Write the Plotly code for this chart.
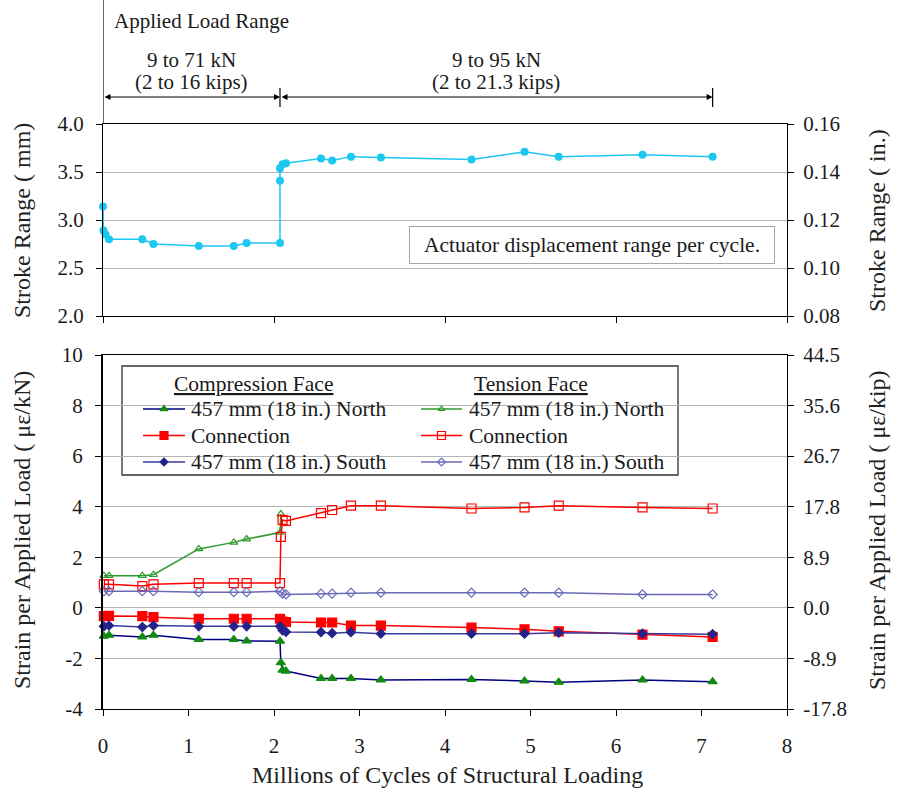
import plotly.graph_objects as go

# ---- data -------------------------------------------------------------
# Millions of cycles at which stroke range was recorded
stroke_cycles = [0.0, 0.005, 0.03, 0.07, 0.46, 0.59, 1.12, 1.53, 1.68, 2.07, 2.07, 2.07,
                 2.10, 2.14, 2.55, 2.68, 2.90, 3.25, 4.31, 4.93, 5.33, 6.31, 7.13]
stroke_mm = [3.14, 2.89, 2.85, 2.80, 2.80, 2.75, 2.73, 2.73, 2.76, 2.76, 3.41, 3.54,
             3.58, 3.59, 3.64, 3.62, 3.66, 3.65, 3.63, 3.71, 3.66, 3.68, 3.66]

# Millions of cycles at which strain readings were taken
strain_cycles = [0.01, 0.07, 0.46, 0.59, 1.12, 1.53, 1.68, 2.07, 2.08, 2.10,
                 2.14, 2.55, 2.68, 2.90, 3.25, 4.31, 4.93, 5.33, 6.31, 7.13]

# Strain per applied load (microstrain / kN)
comp_north = [-1.12, -1.08, -1.15, -1.08, -1.25, -1.25, -1.31, -1.32, -2.17, -2.46,
              -2.50, -2.79, -2.79, -2.79, -2.85, -2.83, -2.89, -2.94, -2.85, -2.92]
comp_conn = [-0.33, -0.32, -0.33, -0.37, -0.43, -0.43, -0.43, -0.43, None, -0.54,
             -0.56, -0.58, -0.58, -0.70, -0.70, -0.78, -0.85, -0.93, -1.06, -1.15]
comp_south = [-0.73, -0.70, -0.76, -0.70, -0.73, -0.73, -0.73, -0.73, None, -0.89,
              -0.95, -0.96, -1.00, -0.96, -1.02, -1.02, -1.02, -0.98, -1.02, -1.04]
tens_north = [1.27, 1.27, 1.27, 1.31, 2.33, 2.59, 2.72, 2.98, 3.71, None,
              None, None, None, None, None, None, None, None, None, None]
tens_conn = [0.93, 0.93, 0.86, 0.93, 0.98, 0.98, 0.98, 0.98, 2.81, 3.48,
             3.44, 3.75, 3.87, 4.04, 4.04, 3.93, 3.97, 4.04, 3.97, 3.93]
tens_south = [0.66, 0.66, 0.66, 0.66, 0.62, 0.62, 0.62, 0.66, None, 0.56,
              0.53, 0.56, 0.56, 0.60, 0.60, 0.60, 0.60, 0.60, 0.53, 0.53]

# Load stages
load_change = 2.07   # million cycles where the load range was raised
test_end = 7.13
stage_kn = ["9 to 71 kN", "9 to 95 kN"]
stage_kips = ["(2 to 16 kips)", "(2 to 21.3 kips)"]

KIP_PER_KN = 4.448  # conversion for the right-hand strain axis
strain_ticks = list(range(-4, 11, 2))

FONT = "Liberation Serif"
GRID = "#b4b4b4"
INK = "#1a1a1a"

# plot-area box in page pixels, used to place the page furniture
W, H = 898, 794
L, R, T, B = 103, 787, 124, 709


def px(x):
    return (x - L) / (R - L)


def py(y):
    return (B - y) / (B - T)


fig = go.Figure()

# ---- stroke range (top panel) ----------------------------------------
fig.add_trace(go.Scatter(
    x=stroke_cycles, y=stroke_mm, mode="lines+markers", cliponaxis=False,
    line=dict(color="#1cc8f2", width=1.5),
    marker=dict(color="#1cc8f2", size=8, symbol="circle"),
    xaxis="x", yaxis="y", showlegend=False))

# ---- strain per applied load (bottom panel) ---------------------------
series = [
    # name, values, line colour, marker colour, symbol, size, legend column
    ("457 mm (18 in.) North", comp_north, "#000080", "#118a11", "triangle-up", 8, 0),
    ("Connection", comp_conn, "#ff0000", "#ff0000", "square", 9, 0),
    ("457 mm (18 in.) South", comp_south, "#3a3a9c", "#23238c", "diamond", 7, 0),
    ("457 mm (18 in.) North", tens_north, "#2e9a2e", "#2e9a2e", "triangle-up-open", 7, 1),
    ("Connection", tens_conn, "#ff0000", "#ff0000", "square-open", 9, 1),
    ("457 mm (18 in.) South", tens_south, "#6a6ab8", "#6a6ab8", "diamond-open", 7, 1),
]
for name, vals, lcol, mcol, sym, size, col in series:
    fig.add_trace(go.Scatter(
        x=strain_cycles, y=vals, mode="lines+markers", name=name, connectgaps=True,
        cliponaxis=False,
        line=dict(color=lcol, width=1.5),
        marker=dict(color=mcol, size=size, symbol=sym, line=dict(color=mcol, width=1.2)),
        xaxis="x2", yaxis="y2", showlegend=False))

# ---- axes ----------------------------------------------------------------
tickfont = dict(family=FONT, size=21, color=INK)
common_axis = dict(showline=True, linecolor="black", linewidth=1.2, ticks="outside",
                   tickcolor="black", ticklen=6, zeroline=False, tickfont=tickfont)

fig.update_layout(
    xaxis=dict(domain=[0, 1], anchor="y", range=[0, 8], dtick=2, showticklabels=False,
               showgrid=False, mirror=True, **common_axis),
    yaxis=dict(domain=[py(316), 1], anchor="x", range=[2, 4], dtick=0.5, tickformat=".1f",
               showgrid=True, gridcolor=GRID, ticklabelstandoff=8, **common_axis),
    yaxis3=dict(overlaying="y", side="right", anchor="x", range=[0.08, 0.16], dtick=0.02,
                tickformat=".2f", showgrid=False, ticklabelstandoff=5, **common_axis),
    xaxis2=dict(domain=[0, 1], anchor="y2", range=[0, 8], dtick=1, showgrid=False,
                mirror=True, ticklabelstandoff=12, **common_axis),
    yaxis2=dict(domain=[0, py(355)], anchor="x2", range=[-4, 10], tickvals=strain_ticks,
                ticktext=[str(v) for v in strain_ticks],
                showgrid=True, gridcolor=GRID, ticklabelstandoff=8,
                **{**common_axis, "linewidth": 2.2}),
    yaxis4=dict(overlaying="y2", side="right", anchor="x2",
                range=[-4 * KIP_PER_KN, 10 * KIP_PER_KN],
                tickvals=[v * KIP_PER_KN for v in strain_ticks],
                ticktext=["%.1f" % (v * KIP_PER_KN) for v in strain_ticks],
                showgrid=False, ticklabelstandoff=5, **common_axis),
    # helper axes in page pixels for the legend glyphs
    xaxis3=dict(domain=[0, 1], anchor="y5", range=[L, R], visible=False, fixedrange=True),
    yaxis5=dict(domain=[0, 1], anchor="x3", range=[B, T], visible=False, fixedrange=True),
)

# dummy traces so the right-hand axes are drawn
fig.add_trace(go.Scatter(x=[None], y=[None], xaxis="x", yaxis="y3", showlegend=False))
fig.add_trace(go.Scatter(x=[None], y=[None], xaxis="x2", yaxis="y4", showlegend=False))

# ---- legend (two columns with underlined headers) -----------------------
legfont = dict(family=FONT, size=21.5, color=INK)
col_sample = [(143, 185), (421, 462)]
col_text = [189, 467]
rows = [409, 435.5, 462]
annotations = []
for i, (name, vals, lcol, mcol, sym, size, col) in enumerate(series):
    x0, x1 = col_sample[col]
    yrow = rows[i % 3]
    fig.add_trace(go.Scatter(x=[x0, x1], y=[yrow, yrow], mode="lines",
                             line=dict(color=lcol, width=1.5), xaxis="x3", yaxis="y5",
                             showlegend=False, hoverinfo="skip"))
    fig.add_trace(go.Scatter(x=[(x0 + x1) / 2], y=[yrow], mode="markers",
                             marker=dict(color=mcol, size=size - 1, symbol=sym,
                                         line=dict(color=mcol, width=1.2)),
                             xaxis="x3", yaxis="y5", showlegend=False, hoverinfo="skip"))
    annotations.append(dict(x=px(col_text[col]), y=py(yrow), xref="paper", yref="paper",
                            text=name, showarrow=False, xanchor="left", yanchor="middle",
                            font=legfont))
for text, xc in [("Compression Face", 253), ("Tension Face", 531)]:
    annotations.append(dict(x=px(xc), y=py(384), xref="paper", yref="paper",
                            text="<u>%s</u>" % text, showarrow=False,
                            xanchor="center", yanchor="middle", font=legfont))

shapes = [
    # legend frame
    dict(type="rect", xref="paper", yref="paper", x0=px(122), x1=px(678), y0=py(475), y1=py(366),
         line=dict(color="#333", width=1.3), fillcolor="white", layer="below"),
    # load-stage markers above the chart
    dict(type="line", xref="x", yref="paper", x0=0, x1=0, y0=1.0, y1=py(0),
         line=dict(color="black", width=1.2)),
    dict(type="line", xref="x", yref="paper", x0=load_change, x1=load_change,
         y0=py(107), y1=py(88), line=dict(color="black", width=1.2)),
    dict(type="line", xref="x", yref="paper", x0=test_end, x1=test_end,
         y0=py(107), y1=py(88), line=dict(color="black", width=1.2)),
]

# double-headed arrows for the two load stages
for a, b in [(0, load_change), (load_change, test_end)]:
    annotations.append(dict(x=b, y=py(97), ax=a, ay=0, xref="x", yref="paper",
                            axref="x", ayref="pixel", text="", showarrow=True,
                            arrowhead=2, arrowside="end+start", arrowsize=1,
                            arrowwidth=1.2, arrowcolor="black"))

topfont = dict(family=FONT, size=21, color=INK)
annotations.append(dict(x=px(112), y=py(21), xref="paper", yref="paper",
                        text="Applied Load Range", showarrow=False,
                        xanchor="left", yanchor="middle", font=topfont))
for (a, b), kn, kips in zip([(0, load_change), (load_change, test_end)], stage_kn, stage_kips):
    annotations.append(dict(x=(a + b) / 2, y=py(60), xref="x", yref="paper", text=kn,
                            showarrow=False, xanchor="center", yanchor="middle", font=topfont))
    annotations.append(dict(x=(a + b) / 2, y=py(82), xref="x", yref="paper", text=kips,
                            showarrow=False, xanchor="center", yanchor="middle", font=topfont))

annotations.append(dict(x=px(592), y=py(244.5), xref="paper", yref="paper",
                        text="Actuator displacement range per cycle.", showarrow=False,
                        xanchor="center", yanchor="middle",
                        bordercolor="#a8a8a8", borderwidth=1, borderpad=6, bgcolor="white",
                        width=352, font=dict(family=FONT, size=21.5, color=INK)))

# axis titles
titlefont = dict(family=FONT, size=24, color="#222")
for text, x, y, ang in [
    ("Stroke Range ( mm)", 22, 221, -90),
    ("Stroke Range ( in.)", 877, 221, -90),
    ("Strain per Applied Load ( με/kN)", 22, 530, -90),
    ("Strain per Applied Load ( με/kip)", 877, 530, -90),
    ("Millions of Cycles of Structural Loading", 447, 775, 0),
]:
    annotations.append(dict(x=px(x), y=py(y), xref="paper", yref="paper", text=text,
                            textangle=ang, showarrow=False, xanchor="center",
                            yanchor="middle", font=titlefont))

fig.update_layout(
    width=W, height=H,
    margin=dict(l=L, r=W - R, t=T, b=H - B),
    paper_bgcolor="white", plot_bgcolor="rgba(0,0,0,0)",
    font=dict(family=FONT, color="#222"),
    showlegend=False,
    shapes=shapes, annotations=annotations,
)

fig.write_html("out.html")
